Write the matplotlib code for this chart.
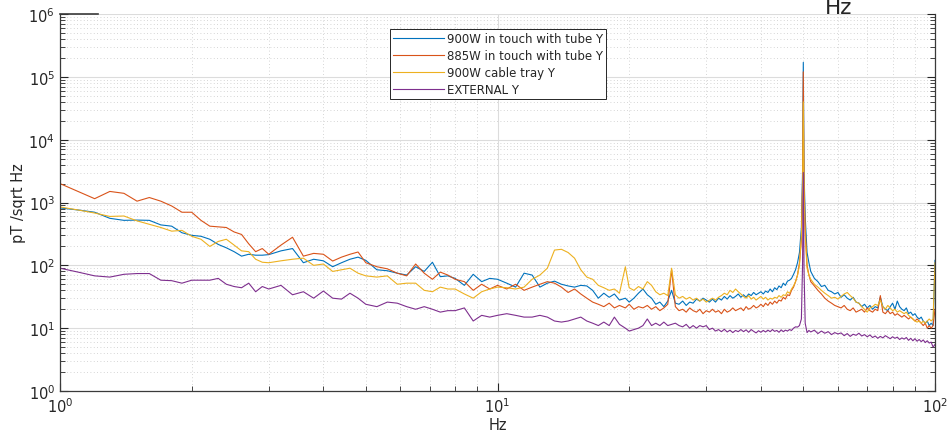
import matplotlib
matplotlib.use("Agg")
import matplotlib.pyplot as plt
from matplotlib.ticker import LogLocator, NullFormatter

freq = [1.0, 1.1, 1.2, 1.3, 1.4, 1.5, 1.6, 1.7, 1.8, 1.9, 2.0, 2.1, 2.2, 2.3, 2.4, 2.5, 2.6, 2.7, 2.8, 2.9, 3.0,
        3.2, 3.4, 3.6, 3.8, 4.0, 4.2, 4.4, 4.6, 4.8, 5.0,
        5.3, 5.6, 5.9, 6.2, 6.5, 6.8, 7.1, 7.4, 7.7, 8.0,
        8.4, 8.8, 9.2, 9.6, 10,
        10.5, 11, 11.5, 12, 12.5, 13, 13.5, 14, 14.5, 15, 15.5, 16,
        16.5, 17, 17.5, 18, 18.5, 19, 19.6, 20, 20.5, 21,
        21.5, 22, 22.5, 23, 23.5, 24, 24.5, 25, 25.5, 26,
        26.5, 27, 27.5, 28, 28.5, 29, 29.5, 30, 30.5, 31,
        31.5, 32, 32.5, 33, 33.5, 34, 34.5, 35, 35.5, 36,
        36.5, 37, 37.5, 38, 38.5, 39, 39.5, 40, 40.5, 41,
        41.5, 42, 42.5, 43, 43.5, 44, 44.5, 45, 45.5, 46,
        46.5, 47, 47.5, 48, 48.5, 49, 49.5, 49.8, 50, 50.2,
        50.5, 51, 51.5,
        52, 53, 54, 55, 56, 57, 58, 59, 60, 61,
        62, 63, 64, 65, 66, 67, 68, 69, 70, 71,
        72, 73, 74, 75, 76, 77, 78, 79, 80, 81,
        82, 83, 84, 85, 86, 87, 88, 89, 90, 91,
        92, 93, 94, 95, 96, 97, 98, 99, 100]

tube900 = [820, 760, 700, 560, 520, 525, 520, 440, 420, 330, 300, 290, 260, 215, 190, 165, 140, 150, 145, 145, 148,
           170, 185, 110, 125, 118, 95, 110, 125, 135, 120,
           85, 82, 75, 70, 95, 80, 112, 66, 68, 62,
           48, 72, 55, 62, 60,
           52, 45, 75, 70, 45, 52, 56, 50, 47, 45, 48, 47,
           40, 30, 36, 31, 35, 28, 30, 26, 30, 36,
           42, 34, 30, 24, 26, 22, 27, 40, 25, 24,
           27, 23, 26, 25, 29, 27, 30, 28, 26, 29,
           26, 30, 28, 32, 29, 33, 30, 32, 35, 31,
           34, 31, 35, 33, 37, 34, 36, 38, 35, 39,
           37, 42, 38, 44, 41, 47, 44, 52, 48, 56,
           58, 62, 72, 85, 110, 160, 400, 3000, 170000, 3000,
           600, 160, 110,
           80, 62, 55, 46, 48, 40, 38, 35, 37, 31,
           34, 30, 28, 31, 26, 25, 22, 24, 21, 23,
           20, 22, 21, 31, 22, 20, 19, 22, 25, 20,
           27, 22, 20, 19, 21, 17, 18, 16, 17, 15,
           14, 15, 13, 12, 13, 11, 12, 11, 120]

tube885 = [2000, 1500, 1150, 1500, 1400, 1050, 1200, 1050, 880, 700, 700, 520, 420, 410, 400, 340, 310, 220, 165, 185, 150,
           210, 280, 140, 155, 150, 117, 135, 150, 163, 110,
           95, 88, 75, 68, 105, 75, 60, 78, 70, 60,
           55, 40, 50, 42, 48,
           42, 50, 40, 45, 50, 55, 52, 45, 37, 42, 35, 30,
           26, 24, 22, 25, 21, 23, 21, 24, 20, 22,
           21, 23, 20, 22, 19, 21, 24, 85, 22, 19,
           20, 18, 21, 19, 18, 20, 17, 19, 18, 20,
           18, 19, 17, 20, 18, 19, 21, 19, 20, 21,
           19, 22, 20, 21, 23, 21, 22, 24, 22, 25,
           23, 26, 24, 27, 25, 28, 27, 31, 29, 34,
           33, 40, 45, 55, 70, 110, 250, 2000, 120000, 2000,
           400, 100, 70,
           55, 47, 40, 35, 30, 27, 25, 23, 22, 21,
           23, 20, 19, 21, 18, 19, 20, 18, 21, 19,
           18, 20, 19, 33, 18, 17, 19, 17, 18, 16,
           17, 16, 15, 16, 15, 14, 15, 14, 13, 14,
           13, 12, 11, 12, 10, 11, 10, 11, 20]

tray900 = [850, 760, 680, 600, 610, 510, 450, 400, 350, 360, 290, 260, 200, 240, 260, 210, 170, 165, 125, 112, 110,
           118, 125, 130, 100, 105, 80, 85, 90, 75, 68,
           65, 68, 50, 52, 52, 40, 38, 45, 42, 42,
           35, 30, 38, 42, 45,
           44, 42, 45, 60, 70, 90, 175, 180, 160, 130, 85, 65,
           60, 48, 44, 40, 42, 36, 95, 44, 40, 46,
           42, 55, 48, 38, 34, 36, 33, 90, 34, 30,
           32, 29, 31, 28, 30, 27, 29, 26, 28, 30,
           28, 31, 33, 36, 34, 40, 37, 42, 38, 35,
           32, 30, 33, 29, 31, 28, 30, 32, 29, 31,
           28, 30, 29, 31, 30, 33, 31, 34, 33, 38,
           36, 42, 47, 55, 70, 100, 300, 1500, 40000, 1200,
           300, 90, 70,
           60, 50, 45, 40, 36, 33, 30, 31, 29, 32,
           35, 37, 33, 30, 26, 25, 22, 20, 18, 21,
           22, 24, 23, 28, 22, 20, 23, 21, 19, 20,
           18, 19, 18, 17, 18, 16, 15, 14, 13, 12.5,
           13, 12, 13, 12, 13, 14, 13, 14, 110]

external = [90, 78, 68, 65, 72, 74, 74, 58, 57, 52, 58, 58, 58, 62, 50, 46, 44, 52, 38, 46, 42,
            48, 34, 38, 30, 39, 30, 29, 36, 30, 24,
            22, 26, 25, 22, 20, 22, 20, 18, 19, 19,
            21, 13, 16, 15, 16,
            17, 16, 15, 15, 16, 15, 13, 12.5, 13, 14, 15, 13,
            12, 11, 12.5, 11, 15, 11.5, 10, 9, 9.5, 10,
            11, 14, 11, 12, 11, 12.5, 11, 11.5, 12, 11,
            10.5, 11.5, 10, 11, 10, 11, 10.5, 11, 9.5, 10,
            9, 9.5, 8.8, 9.6, 8.7, 9.3, 8.5, 9.2, 8.8, 9.5,
            8.8, 9.4, 8.6, 9.5, 8.9, 8.4, 9.1, 8.6, 9.2, 8.7,
            9.3, 8.8, 9.5, 8.9, 9.2, 8.6, 9.4, 8.8, 9.3, 9,
            9.5, 9.2, 10, 10.5, 10.4, 11, 14, 100, 3000, 80,
            12, 8.5, 9.2,
            8.7, 9.3, 8.2, 9, 8.3, 8.8, 7.9, 8.5, 8.1, 8.4,
            7.6, 8.2, 7.4, 8, 7.7, 8.3, 7.5, 7.9, 7.3, 7.8,
            7.1, 7.5, 6.9, 7.4, 7, 7.6, 7.2, 6.8, 7.3, 6.9,
            7.2, 6.6, 7, 6.7, 7.1, 6.4, 6.9, 6.3, 6.8, 6.2,
            6.6, 6.1, 6.5, 5.9, 6.3, 5.8, 6, 5, 5.5]

labels = ["900W in touch with tube Y", "885W in touch with tube Y", "900W cable tray Y", "EXTERNAL Y"]
colors = ["#0072BD", "#D95319", "#EDB120", "#7E2F8E"]
series = [tube900, tube885, tray900, external]

fig = plt.figure(figsize=(9.48, 4.35), dpi=100)
ax = fig.add_axes([60/948, 43/435, 875/948, 377/435])

for vals, lab, col in zip(series, labels, colors):
    ax.plot(freq, vals, color=col, lw=0.8, label=lab)

ax.set_xscale("log")
ax.set_yscale("log")
ax.set_xlim(1, 100)
ax.set_ylim(1, 1e6)

ax.yaxis.set_major_locator(LogLocator(base=10, numticks=10))
ax.yaxis.set_minor_locator(LogLocator(base=10, subs=range(2, 10), numticks=20))
ax.yaxis.set_minor_formatter(NullFormatter())
ax.xaxis.set_minor_formatter(NullFormatter())

ax.grid(True, which="major", color="#dcdcdc", lw=0.8, ls="-")
ax.grid(True, which="minor", color="#c8c8c8", lw=0.6, ls=(0, (1, 3)))
ax.set_axisbelow(True)

tc = "#262626"
ax.tick_params(which="both", direction="in", colors=tc, labelcolor=tc, right=True, top=False, labelsize=10.5)
ax.tick_params(which="major", length=6, width=0.8)
ax.tick_params(which="minor", length=3.5, width=0.6)
for s in ["left", "bottom", "right"]:
    ax.spines[s].set_color("#3a3a3a")
    ax.spines[s].set_linewidth(0.9)
ax.spines["top"].set_visible(False)
ax.plot([0, 38/875], [1, 1], transform=ax.transAxes, color="#3a3a3a", lw=1.2, clip_on=False)

ax.set_xlabel("Hz", fontsize=10.5, color=tc, labelpad=2)
ax.set_ylabel("pT /sqrt Hz", fontsize=10.5, color=tc, labelpad=2)

fig.text(839/948, 1 - 14/435, "Hz", fontsize=15.5, color=tc, ha="center", va="baseline")

leg = ax.legend(loc="upper left", bbox_to_anchor=((390-60)/875, (392-30)/377), fontsize=8.5,
                frameon=True, fancybox=False, edgecolor="#262626", framealpha=1,
                borderpad=0.25, labelspacing=0.35, handlelength=4.3, handletextpad=0.25, borderaxespad=0)
leg.get_frame().set_linewidth(0.7)
for t in leg.get_texts():
    t.set_color(tc)

fig.savefig("out.png", dpi=100)
